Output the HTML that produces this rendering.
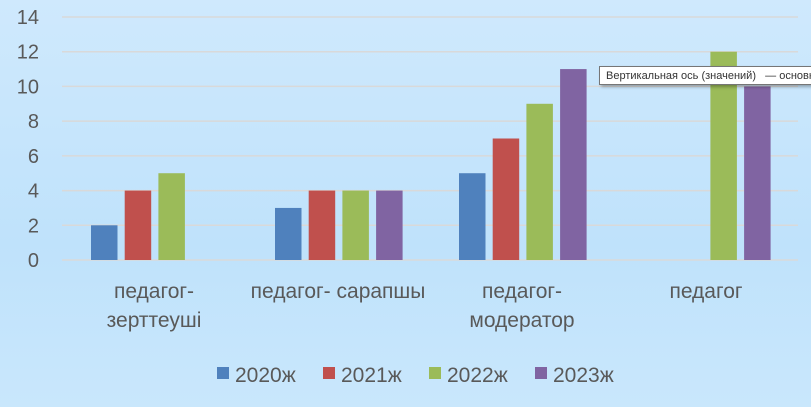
<!DOCTYPE html>
<html><head><meta charset="utf-8"><style>
body{margin:0;width:811px;height:407px;overflow:hidden;font-family:"Liberation Sans","DejaVu Sans",sans-serif}
#bg{position:absolute;left:0;top:0;width:811px;height:407px;background:linear-gradient(#cfe9fd,#bfe2fb 60%,#c9e7fc)}
svg{position:absolute;left:0;top:0}
#tip{position:absolute;left:599px;top:66px;width:230px;height:19px;background:#fff;border:1px solid #767676;box-shadow:2px 2px 3px rgba(0,0,0,.3);font-size:11px;line-height:19px;padding-left:6px;white-space:nowrap;color:#333;box-sizing:border-box}
</style></head><body>
<div id="bg"></div>
<svg id="c" width="811" height="407"></svg>
<div id="tip">Вертикальная ось (значений)&nbsp;&nbsp; — основная</div>
<script>
const categories=[["педагог-","зерттеуші"],["педагог- сарапшы"],["педагог-","модератор"],["педагог"]];
const seriesNames=["2020ж","2021ж","2022ж","2023ж"];
const s2020=[2,3,5,0];
const s2021=[4,4,7,0];
const s2022=[5,4,9,12];
const s2023=[0,4,11,10];
const yTicks=[0,2,4,6,8,10,12,14];
const colors=["#4f81bd","#c0504d","#9bbb59","#8064a2"];
const series=[s2020,s2021,s2022,s2023];
const svg=document.getElementById('c'),NS="http://www.w3.org/2000/svg";
const x0=62,x1=798,yTop=17,yBot=260,yMax=14;
const y=v=>yBot-(yBot-yTop)*v/yMax;
const cw=(x1-x0)/categories.length;
function mk(t,a){const e=document.createElementNS(NS,t);for(const k in a)e.setAttribute(k,a[k]);svg.appendChild(e);return e;}
yTicks.forEach(t=>{
 const l=mk('line',{x1:x0,x2:x1,y1:y(t),y2:y(t),stroke:'#d9d9d9','stroke-width':1.5});
 
 
 const tx=mk('text',{x:39,y:y(t)+7,'text-anchor':'end','font-size':20,fill:'#595959'});
 tx.textContent=t;
 
 
});
categories.forEach((c,i)=>{
 series.forEach((s,j)=>{
  if(!s[i])return;
  const r=mk('rect',{x:x0+i*cw+29+j*33.7,y:y(s[i]),width:26.5,height:yBot-y(s[i]),fill:colors[j]});
  
  
 });
 c.forEach((ln,k)=>{
  const t=mk('text',{x:x0+i*cw+cw/2,y:298+k*29,'text-anchor':'middle','font-size':21,fill:'#595959'});
  t.textContent=ln;
  
  
 });
});
const lx=[217,323,429,535];
seriesNames.forEach((n,j)=>{
 const r=mk('rect',{x:lx[j],y:367,width:12,height:12,fill:colors[j]});
 
 
 const t=mk('text',{x:lx[j]+18,y:382,'font-size':21,fill:'#595959'});
 t.textContent=n;
 
 
});
</script>
</body></html>
